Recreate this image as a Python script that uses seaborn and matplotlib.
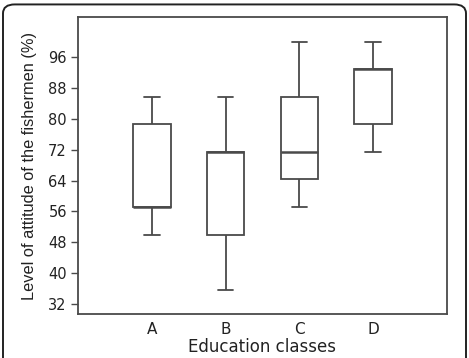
import numpy as np
import pandas as pd
import seaborn as sns
import matplotlib.pyplot as plt
from matplotlib.patches import FancyBboxPatch

# attitude scores (%): min, Q1, median, Q3, max
classes = ['A', 'B', 'C', 'D']
scores_a = [50.0, 57.1, 57.1, 78.6, 85.7]
scores_b = [35.7, 50.0, 71.4, 71.4, 85.7]
scores_c = [57.1, 64.3, 71.4, 85.7, 100.0]
scores_d = [71.4, 78.6, 92.9, 92.9, 100.0]
yticks = [32, 40, 48, 56, 64, 72, 80, 88, 96]

df = pd.DataFrame({
    'cls': np.repeat(classes, 5),
    'score': scores_a + scores_b + scores_c + scores_d,
})

sns.set_style('white')
plt.rcParams['font.family'] = ['DejaVu Sans']

fig = plt.figure(figsize=(4.69, 3.58), dpi=100)
ax = fig.add_axes([78 / 469, 1 - 314 / 358, 369 / 469, 297 / 358])

line = '#4a4a4a'
sns.boxplot(data=df, x='cls', y='score', order=classes, width=0.51, whis=1.5,
            color='white', linecolor=line, linewidth=1.3, fliersize=0,
            medianprops={'color': line, 'linewidth': 1.8},
            capprops={'color': line}, ax=ax)

# narrower whisker caps, like the original
for ln in ax.lines:
    xd = np.asarray(ln.get_xdata(), dtype=float)
    yd = np.asarray(ln.get_ydata(), dtype=float)
    if len(xd) == 2 and yd[0] == yd[1] and yd[0] in (50.0, 85.7, 35.7, 100.0, 57.1, 71.4):
        mid = xd.mean()
        half = (xd[1] - xd[0]) / 2
        if abs(half) < 0.15:
            ln.set_xdata([mid - 0.105, mid + 0.105])

ax.set_xlim(-1, 4)
ax.set_ylim(29.4, 106.4)
ax.set_yticks(yticks)
ax.tick_params(axis='y', left=True, length=5, width=1, color=line, labelsize=10.5,
               pad=3, labelcolor='#222222')
ax.tick_params(axis='x', bottom=False, labelsize=11, pad=2, labelcolor='#222222')
for s in ax.spines.values():
    s.set_color(line)
    s.set_linewidth(1.3)
ax.set_xlabel('Education classes', fontsize=12, color='#222222', labelpad=1)
ax.set_ylabel('Level of attitude of the fishermen (%)', fontsize=11.8, color='#222222',
              labelpad=8, family='Liberation Sans')

# rounded frame around the whole figure, bottom edge running off the image
frame = FancyBboxPatch((3 / 469, -0.05), 463 / 469, 1 - 3 / 358 + 0.05 - 0.004,
                       boxstyle='round,pad=0,rounding_size=0.025',
                       transform=fig.transFigure, fill=False, edgecolor='#222222',
                       linewidth=1.4, clip_on=False)
fig.patches.append(frame)

fig.savefig('out.png', dpi=100)
